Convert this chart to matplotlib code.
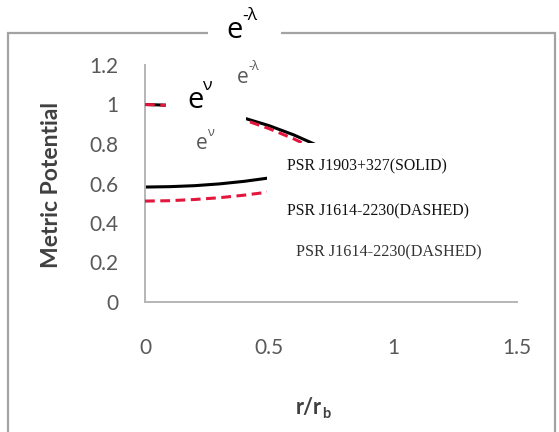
import matplotlib
matplotlib.use("Agg")
import matplotlib.pyplot as plt
from matplotlib.patches import Rectangle
from matplotlib.text import Annotation

# ---- data ----
r = [0.0, 0.1, 0.2, 0.3, 0.4, 0.5, 0.6, 0.7, 0.8, 0.9, 1.0]
elam_solid = [1.0, 0.996, 0.983, 0.961, 0.931, 0.893, 0.846, 0.790, 0.725, 0.652, 0.570]
elam_dashed = [1.0, 0.995, 0.981, 0.957, 0.922, 0.878, 0.826, 0.766, 0.700, 0.625, 0.540]
enu_solid = [0.582, 0.584, 0.589, 0.598, 0.611, 0.628, 0.648, 0.672, 0.700, 0.730, 0.765]
enu_dashed = [0.511, 0.513, 0.519, 0.528, 0.541, 0.557, 0.577, 0.600, 0.627, 0.657, 0.690]
xticks = [0, 0.5, 1, 1.5]
xticklabels = ["0", "0.5", "1", "1.5"]
yticks = [0, 0.2, 0.4, 0.6, 0.8, 1.0, 1.2]
yticklabels = ["0", "0.2", "0.4", "0.6", "0.8", "1", "1.2"]
label_solid = "PSR J1903+327(SOLID)"
label_dashed = "PSR J1614-2230(DASHED)"

W, H = 559, 432
fig = plt.figure(figsize=(W / 100, H / 100), dpi=100)
fig.patch.set_facecolor("white")


def fx(x):
    return x / W


def fy(y):
    return 1 - y / H


# outer chart-area border
fig.patches.append(Rectangle((fx(8), fy(445)), fx(555) - fx(8), fy(33) - fy(445),
                             transform=fig.transFigure, fill=False,
                             edgecolor="#a3a3a3", linewidth=1.6, zorder=0))

ax = fig.add_axes([fx(145), fy(302), fx(517) - fx(145), fy(65) - fy(302)])
ax.set_facecolor("none")
ax.set_xlim(0, 1.5)
ax.set_ylim(0, 1.2)

red = "#e3173d"
ax.plot(r, elam_solid, color="black", lw=2.2, zorder=2)
ax.plot(r, enu_solid, color="black", lw=2.2, zorder=2)
ax.plot(r, elam_dashed, color=red, lw=2.2, dashes=(3.2, 1.8), zorder=3)
ax.plot(r, enu_dashed, color=red, lw=2.2, dashes=(3.2, 1.8), zorder=3)

for s in ["top", "right"]:
    ax.spines[s].set_visible(False)
for s in ["left", "bottom"]:
    ax.spines[s].set_color("#b5b5b5")
    ax.spines[s].set_linewidth(1.4)

tickfont = dict(family=["Lato", "DejaVu Sans"], size=15, color="#595959")
ax.set_xticks(xticks)
ax.set_xticklabels(xticklabels, **tickfont)
ax.set_yticks(yticks)
ax.set_yticklabels(yticklabels, **tickfont)
ax.tick_params(axis="both", length=0)
ax.tick_params(axis="x", pad=26)
ax.tick_params(axis="y", pad=19)

# white cover boxes (pasted labels in the reference)
fig.patches.append(Rectangle((fx(166), fy(136)), fx(246) - fx(166), fy(76) - fy(136),
                             transform=fig.transFigure, facecolor="white",
                             edgecolor="none", zorder=5))
fig.patches.append(Rectangle((fx(267), fy(236)), fx(545) - fx(267), fy(143) - fy(236),
                             transform=fig.transFigure, facecolor="white",
                             edgecolor="none", zorder=5))
fig.patches.append(Rectangle((fx(208), fy(45)), fx(281) - fx(208), fy(5) - fy(45),
                             transform=fig.transFigure, facecolor="white",
                             edgecolor="none", zorder=5))

# axis titles
fig.text(fx(52), fy(185), "Metric Potential", rotation=90, ha="center", va="center",
         family=["Lato", "DejaVu Sans"], weight="bold", size=16.5, color="#404040", zorder=6)
fig.text(fx(322), fy(414), "r/r", ha="right", va="baseline",
         family=["Lato", "DejaVu Sans"], weight="bold", size=15.5, color="#404040", zorder=6)
fig.text(fx(322), fy(418), "b", ha="left", va="baseline",
         family=["Lato", "DejaVu Sans"], weight="bold", size=10.5, color="#404040", zorder=6)

efam = ["Open Sans", "DejaVu Sans"]


def elabel(x, y, sup, size, color):
    t = fig.text(fx(x), fy(y), "e", ha="left", va="baseline", family=efam,
                 size=size, color=color, zorder=7)
    a = Annotation(sup, xy=(1.0, 0.72), xycoords=t, ha="left", va="bottom",
                   family=efam, size=size * 0.6, color=color,
                   annotation_clip=False)
    a.set_zorder(8)
    fig.add_artist(a)
    return t


elabel(187, 108, "ν", 21, "black")
elabel(226, 38, "-λ", 21, "black")
elabel(196, 149, "ν", 15, "#595959")
elabel(237, 83, "-λ", 15, "#595959")

serif = ["Liberation Serif", "DejaVu Serif"]
fig.text(fx(287), fy(166), label_solid, ha="left", va="center", family=serif,
         size=11.4, color="#111111", zorder=7)
fig.text(fx(287), fy(211), label_dashed, ha="left", va="center", family=serif,
         size=11.4, color="#111111", zorder=7)
fig.text(fx(296), fy(252), label_dashed, ha="left", va="center", family=serif,
         size=11.6, color="#333333", zorder=7)

fig.savefig("out.png", dpi=100, facecolor="white")
